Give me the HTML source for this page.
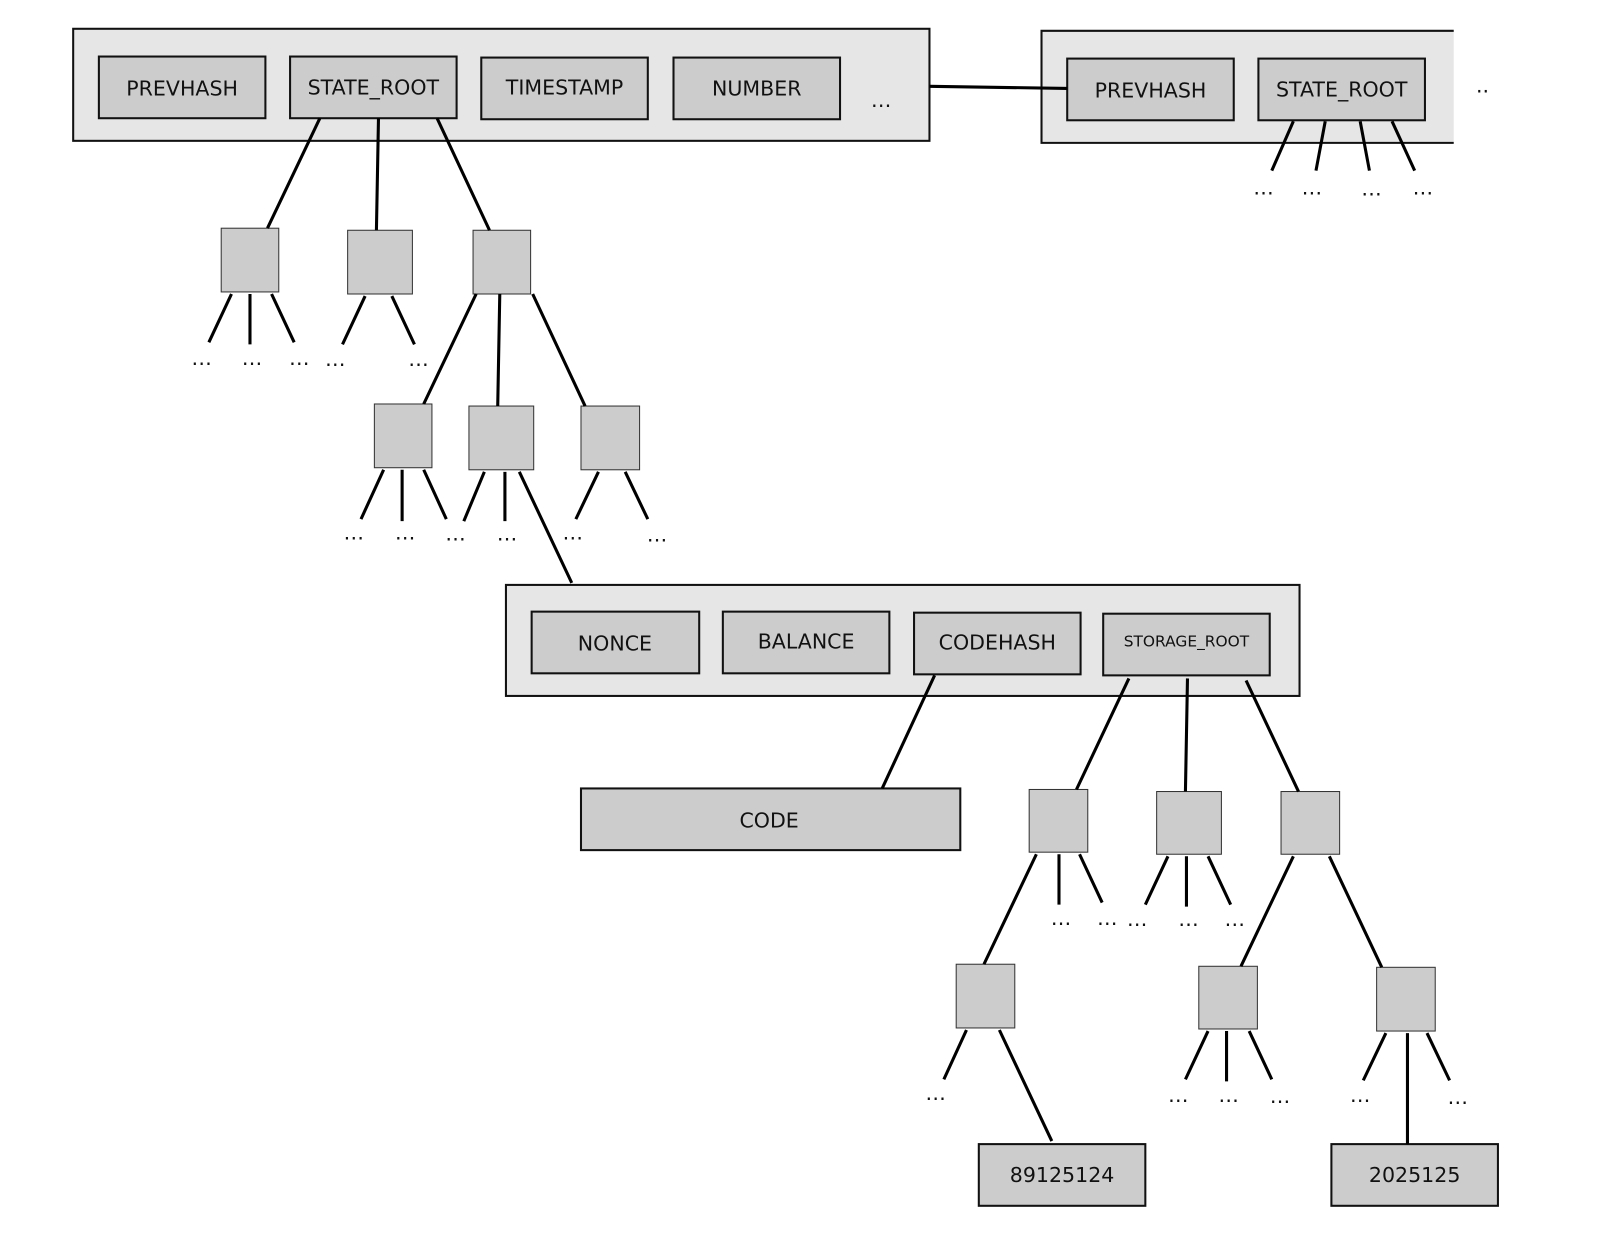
<!DOCTYPE html>
<html><head><style>html,body{margin:0;padding:0;background:#fff;}svg{display:block}</style></head>
<body>
<svg width="1604" height="1250" viewBox="0 0 1560 1216" xmlns="http://www.w3.org/2000/svg" font-family="DejaVu Sans, Liberation Sans, sans-serif">
<rect width="1560" height="1216" fill="#fff"/>
<g stroke="#111" stroke-width="2">
<rect x="71" y="28" width="833" height="109" fill="#e6e6e6"/>
<path d="M1414,30 H1013 V139 H1414" fill="#e6e6e6"/>
<rect x="492" y="569" width="772" height="108" fill="#e6e6e6"/>
</g>
<g stroke="#111" stroke-width="2" fill="#cccccc">
<rect x="96" y="55" width="162" height="60"/>
<rect x="282" y="55" width="162" height="60"/>
<rect x="468" y="56" width="162" height="60"/>
<rect x="655" y="56" width="162" height="60"/>
<rect x="1038" y="57" width="162" height="60"/>
<rect x="1224" y="57" width="162" height="60"/>
<rect x="517" y="595" width="163" height="60"/>
<rect x="703" y="595" width="162" height="60"/>
<rect x="889" y="596" width="162" height="60"/>
<rect x="1073" y="597" width="162" height="60"/>
<rect x="565" y="767" width="369" height="60"/>
<rect x="952" y="1113" width="162" height="60"/>
<rect x="1295" y="1113" width="162" height="60"/>
</g>
<g stroke="#333" stroke-width="1" fill="#cccccc">
<rect x="215" y="222" width="56" height="62"/>
<rect x="338" y="224" width="63" height="62"/>
<rect x="460" y="224" width="56" height="62"/>
<rect x="364" y="393" width="56" height="62"/>
<rect x="456" y="395" width="63" height="62"/>
<rect x="565" y="395" width="57" height="62"/>
<rect x="1001" y="768" width="57" height="61"/>
<rect x="1125" y="770" width="63" height="61"/>
<rect x="1246" y="770" width="57" height="61"/>
<rect x="930" y="938" width="57" height="62"/>
<rect x="1166" y="940" width="57" height="61"/>
<rect x="1339" y="941" width="57" height="62"/>
</g>
<g stroke="#000" stroke-width="3" fill="none">
<path d="M904,84 L1038,86"/>
<path d="M1258,118 L1237,166 M1289,118 L1280,166 M1323,118 L1332,166 M1354,118 L1376,166"/>
<path d="M311,115 L260,222 M368,115 L366,224 M425,115 L476,224"/>
<path d="M225,286 L203,333 M243,286 L243,335 M264,286 L286,333"/>
<path d="M355,288 L333,335 M381,288 L403,335"/>
<path d="M463,286 L412,393 M486,286 L484,395 M518,286 L569,395"/>
<path d="M373,457 L351,505 M391,457 L391,507 M412,457 L434,505"/>
<path d="M471,459 L451,507 M491,459 L491,507 M505,459 L556,567"/>
<path d="M582,459 L560,505 M608,459 L630,505"/>
<path d="M909,657 L858,767"/>
<path d="M1098,660 L1047,768 M1155,660 L1153,770 M1212,662 L1263,770"/>
<path d="M1008,831 L957,938 M1030,831 L1030,880 M1050,831 L1072,878"/>
<path d="M1136,833 L1114,880 M1154,833 L1154,882 M1175,833 L1197,880"/>
<path d="M1258,833 L1207,940 M1293,833 L1344,941"/>
<path d="M940,1002 L918,1050 M972,1002 L1023,1110"/>
<path d="M1175,1003 L1153,1050 M1193,1003 L1193,1052 M1215,1003 L1237,1050"/>
<path d="M1348,1005 L1326,1051 M1369,1005 L1369,1113 M1388,1005 L1410,1051"/>
</g>
<g font-size="20" fill="#111" text-anchor="middle" dominant-baseline="central">
<text x="177" y="86">PREVHASH</text>
<text x="363" y="85">STATE_ROOT</text>
<text x="549" y="85">TIMESTAMP</text>
<text x="736" y="86">NUMBER</text>
<text x="1119" y="88">PREVHASH</text>
<text x="1305" y="87">STATE_ROOT</text>
<text x="598" y="626">NONCE</text>
<text x="784" y="624">BALANCE</text>
<text x="970" y="625">CODEHASH</text>
<text x="1154" y="624" font-size="15">STORAGE_ROOT</text>
<text x="748" y="798">CODE</text>
<text x="1033" y="1143">89125124</text>
<text x="1376" y="1143">2025125</text>
</g>
<g font-size="20" fill="#111" text-anchor="middle">
<text x="857" y="104">…</text>
<text x="1442" y="90">..</text>
<text x="1229" y="189">…</text><text x="1276" y="189">…</text><text x="1334" y="190">…</text><text x="1384" y="189">…</text>
<text x="196" y="355">…</text><text x="245" y="355">…</text><text x="291" y="355">…</text>
<text x="326" y="356">…</text><text x="407" y="356">…</text>
<text x="344" y="525">…</text><text x="394" y="525">…</text><text x="443" y="526">…</text>
<text x="493" y="526">…</text><text x="557" y="525">…</text><text x="639" y="527">…</text>
<text x="1032" y="900">…</text><text x="1077" y="900">…</text>
<text x="1106" y="901">…</text><text x="1156" y="901">…</text><text x="1201" y="901">…</text>
<text x="910" y="1070">…</text>
<text x="1146" y="1072">…</text><text x="1195" y="1072">…</text><text x="1245" y="1073">…</text>
<text x="1323" y="1072">…</text><text x="1418" y="1074">…</text>
</g>
</svg>
</body></html>
